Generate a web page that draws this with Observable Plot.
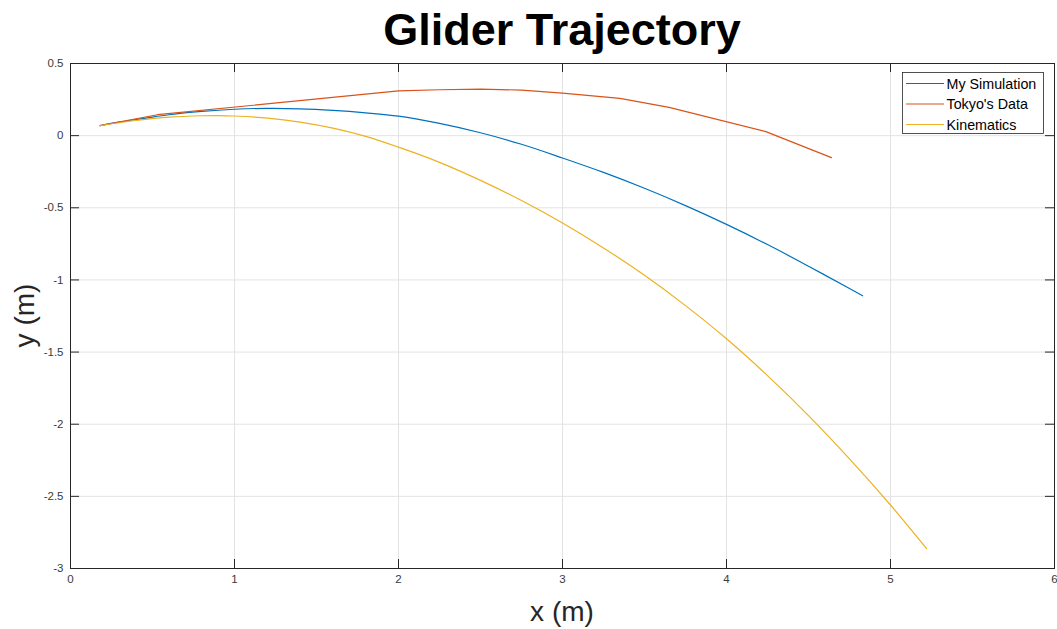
<!DOCTYPE html>
<html>
<head>
<meta charset="utf-8">
<script src="https://cdn.jsdelivr.net/npm/d3@7"></script>
<script src="https://cdn.jsdelivr.net/npm/@observablehq/plot@0.6"></script>
<style>
  html, body { margin: 0; padding: 0; background: #fff; }
  #chart svg { display: block; }
</style>
</head>
<body>
<div id="chart"></div>
<script>
const title = "Glider Trajectory";
const xLabel = "x (m)";
const yLabel = "y (m)";
const seriesNames = ["My Simulation", "Tokyo's Data", "Kinematics"];
const seriesColors = ["#0072BD", "#D95319", "#EDB120"];

const xTicks = [0, 1, 2, 3, 4, 5, 6];
const yTicks = [0.5, 0, -0.5, -1, -1.5, -2, -2.5, -3];

const simX = [0.18, 0.3, 0.45, 0.6, 0.8, 1.0, 1.2, 1.4, 1.6, 1.8, 2.0, 2.25, 2.5, 2.75, 3.0, 3.25, 3.5, 3.75, 4.0, 4.25, 4.5, 4.75, 4.83];
const simY = [0.07, 0.095, 0.12, 0.145, 0.168, 0.183, 0.189, 0.186, 0.175, 0.158, 0.135, 0.085, 0.02, -0.06, -0.155, -0.255, -0.365, -0.485, -0.615, -0.755, -0.905, -1.06, -1.11];

const tokyoX = [0.18, 0.53, 2.0, 2.25, 2.5, 2.75, 3.0, 3.35, 3.65, 4.24, 4.64];
const tokyoY = [0.07, 0.145, 0.31, 0.318, 0.322, 0.316, 0.295, 0.258, 0.196, 0.028, -0.152];

const kinX = [0.18, 0.4, 0.6, 0.8, 0.9, 1.0, 1.2, 1.4, 1.6, 1.8, 2.0, 2.25, 2.5, 2.75, 3.0, 3.25, 3.5, 3.75, 4.0, 4.25, 4.5, 4.75, 5.0, 5.22];
const kinY = [0.07, 0.105, 0.128, 0.138, 0.139, 0.136, 0.122, 0.094, 0.052, -0.005, -0.08, -0.185, -0.31, -0.45, -0.605, -0.778, -0.968, -1.178, -1.408, -1.663, -1.94, -2.24, -2.56, -2.862];

const toRows = (xs, ys, s) => xs.map((x, i) => ({x, y: ys[i], series: s}));
const simRows = toRows(simX, simY, seriesNames[0]);
const tokyoRows = toRows(tokyoX, tokyoY, seriesNames[1]);
const kinRows = toRows(kinX, kinY, seriesNames[2]);

const W = 1057, H = 629;
const mL = 70, mR = 3, mT = 63, mB = 61;
const frameW = W - mL - mR, frameH = H - mT - mB;
const tickLen = 9;
const axisColor = "#262626";
const gridColor = "#e3e3e3";
const font = "'Liberation Sans', Arial, Helvetica, sans-serif";
const fmt = d => String(d);

const plot = Plot.plot({
  width: W,
  height: H,
  marginLeft: mL,
  marginRight: mR,
  marginTop: mT,
  marginBottom: mB,
  style: {fontFamily: font, background: "#fff"},
  x: {domain: [0, 6], ticks: xTicks, label: null},
  y: {domain: [-3, 0.5], ticks: yTicks, label: null},
  color: {domain: seriesNames, range: seriesColors},
  marks: [
    Plot.ruleX(xTicks, {x: d => d, stroke: gridColor, strokeWidth: 1}),
    Plot.ruleY(yTicks, {y: d => d, stroke: gridColor, strokeWidth: 1}),
    Plot.line(simRows, {x: "x", y: "y", stroke: "series", strokeWidth: 1.2, curve: "catmull-rom"}),
    Plot.line(tokyoRows, {x: "x", y: "y", stroke: "series", strokeWidth: 1.2, curve: "linear"}),
    Plot.line(kinRows, {x: "x", y: "y", stroke: "series", strokeWidth: 1.2, curve: "catmull-rom"}),
    Plot.tickX(xTicks, {x: d => d, stroke: axisColor, insetTop: frameH - tickLen}),
    Plot.tickX(xTicks, {x: d => d, stroke: axisColor, insetBottom: frameH - tickLen}),
    Plot.tickY(yTicks, {y: d => d, stroke: axisColor, insetRight: frameW - tickLen}),
    Plot.tickY(yTicks, {y: d => d, stroke: axisColor, insetLeft: frameW - tickLen}),
    Plot.frame({stroke: axisColor, strokeWidth: 1}),
    Plot.axisX({ticks: xTicks, tickFormat: fmt, tickSize: 0, tickPadding: 6, fontSize: 11.5, color: "#3a3a3a", label: null}),
    Plot.axisY({ticks: yTicks, tickFormat: fmt, tickSize: 0, tickPadding: 7, fontSize: 11.5, color: "#3a3a3a", label: null})
  ]
});

const svg = d3.select(plot);
const cx = mL + frameW / 2;

svg.append("text")
  .attr("x", cx).attr("y", 45)
  .attr("text-anchor", "middle")
  .attr("font-family", font)
  .attr("font-weight", "bold")
  .attr("font-size", 45)
  .attr("fill", "#000")
  .text(title);

svg.append("text")
  .attr("x", cx).attr("y", 621)
  .attr("text-anchor", "middle")
  .attr("font-family", font)
  .attr("font-size", 28)
  .attr("fill", "#262626")
  .text(xLabel);

svg.append("text")
  .attr("transform", `translate(34,${mT + frameH / 2}) rotate(-90)`)
  .attr("text-anchor", "middle")
  .attr("font-family", font)
  .attr("font-size", 28)
  .attr("fill", "#262626")
  .text(yLabel);

// Legend
const lg = svg.append("g");
lg.append("rect")
  .attr("x", 902.5).attr("y", 72.5).attr("width", 141).attr("height", 61)
  .attr("fill", "#fff").attr("stroke", axisColor).attr("stroke-width", 0.8);
seriesNames.forEach((name, i) => {
  const yy = 83.5 + i * 20.5;
  lg.append("line")
    .attr("x1", 906).attr("x2", 944).attr("y1", yy).attr("y2", yy)
    .attr("stroke", seriesColors[i]).attr("stroke-width", 1.2);
  lg.append("text")
    .attr("x", 946.5).attr("y", yy + 5)
    .attr("text-anchor", "start")
    .attr("font-family", font)
    .attr("font-size", 14.3)
    .attr("fill", "#000")
    .text(name);
});

document.getElementById("chart").appendChild(plot);
</script>
</body>
</html>
